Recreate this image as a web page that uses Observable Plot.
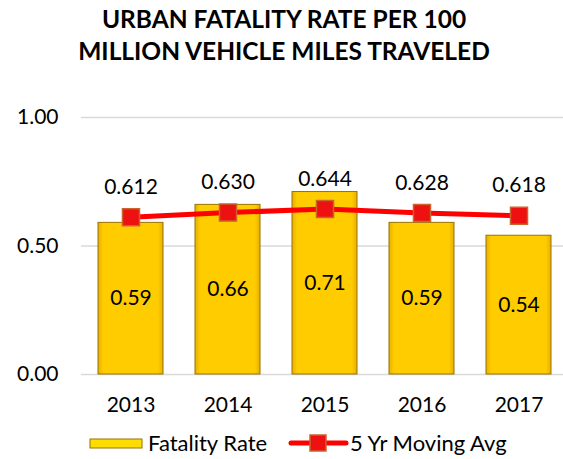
<!DOCTYPE html>
<html>
<head>
<meta charset="utf-8">
<script src="https://cdn.jsdelivr.net/npm/d3@7"></script>
<script src="https://cdn.jsdelivr.net/npm/@observablehq/plot@0.6"></script>
<style>
  html, body { margin: 0; padding: 0; background: #fff; }
  #wrap { width: 563px; height: 459px; position: relative; font-family: Lato, "Open Sans", sans-serif; color: #000; }
  #title { height: 75px; box-sizing: border-box; padding-top: 3px; text-align: center; font-weight: bold; font-size: 24.5px; line-height: 32px; padding-left: 5px; }
  #chart svg { display: block; }
  #legend { position: relative; height: 39px; }
</style>
</head>
<body>
<div id="wrap">
  <div id="title">URBAN FATALITY RATE PER 100<br>MILLION VEHICLE MILES TRAVELED</div>
  <div id="chart"></div>
  <div id="legend"></div>
</div>
<script>
const years = ["2013", "2014", "2015", "2016", "2017"];
const fatalityRate = [0.59, 0.66, 0.71, 0.59, 0.54];
const movingAvg = [0.612, 0.630, 0.644, 0.628, 0.618];
const yTicks = [0, 0.5, 1.0];
const seriesNames = ["Fatality Rate", "5 Yr Moving Avg"];

const data = years.map((y, i) => ({year: y, rate: fatalityRate[i], avg: movingAvg[i]}));

const plot = Plot.plot({
  width: 563,
  height: 345,
  marginLeft: 81,
  marginRight: -5,
  marginTop: 42,
  marginBottom: 46,
  style: {fontFamily: "Lato, 'Open Sans', sans-serif", fontSize: "21px", color: "#000", background: "#fff"},
  x: {domain: years, paddingInner: 0.33, paddingOuter: 0.165, label: null},
  y: {domain: [0, 1], label: null},
  marks: [
    Plot.ruleY(yTicks, {stroke: "#d9d9d9", strokeWidth: 1.3}),
    Plot.barY(data, {x: "year", y: "rate", fill: "url(#barGrad)", stroke: "#9a7300", strokeWidth: 1}),
    Plot.text(data, {x: "year", y: d => d.rate / 2, text: d => d.rate.toFixed(2), fill: "#000", fontSize: 21}),
    Plot.line(data, {x: "year", y: "avg", stroke: "#ff0000", strokeWidth: 5}),
    Plot.dot(data, {x: "year", y: "avg", symbol: "square", r: 9.6, fill: "#ee1111", stroke: "#c8642c", strokeWidth: 1.5}),
    Plot.text(data, {x: "year", y: "avg", text: d => d.avg.toFixed(3), dy: -30, fill: "#000", fontSize: 21}),
    Plot.axisY({ticks: yTicks, tickFormat: d3.format(".2f"), tickSize: 0, tickPadding: 23, fontSize: 21}),
    Plot.axisX({tickSize: 0, tickPadding: 23, fontSize: 21})
  ]
});

// gradient definition for bars
const svgNS = "http://www.w3.org/2000/svg";
const defs = document.createElementNS(svgNS, "defs");
defs.innerHTML = `<linearGradient id="barGrad" x1="0" x2="1" y1="0" y2="0">
  <stop offset="0" stop-color="#e6b000"/>
  <stop offset="0.08" stop-color="#ffcc00"/>
  <stop offset="0.92" stop-color="#ffcc00"/>
  <stop offset="1" stop-color="#e6b000"/>
</linearGradient>`;
plot.insertBefore(defs, plot.firstChild);
document.getElementById("chart").appendChild(plot);

// legend
const lg = d3.select("#legend");
const ls = lg.append("svg").attr("width", 563).attr("height", 39).style("position", "absolute").style("left", 0).style("top", 0);
ls.append("rect").attr("x", 90).attr("y", 19).attr("width", 52).attr("height", 9)
  .attr("fill", "#ffdd00").attr("stroke", "#9a7300").attr("stroke-width", 1);
ls.append("text").attr("x", 148).attr("y", 23).attr("dy", "0.36em").attr("font-size", 22).attr("font-family", "Lato, 'Open Sans', sans-serif").text(seriesNames[0]);
ls.append("line").attr("x1", 291).attr("x2", 346).attr("y1", 23).attr("y2", 23).attr("stroke", "#ff0000").attr("stroke-width", 5).attr("stroke-linecap", "round");
ls.append("rect").attr("x", 310).attr("y", 15).attr("width", 16).attr("height", 16).attr("fill", "#ee1111").attr("stroke", "#c8642c").attr("stroke-width", 1.5);
ls.append("text").attr("x", 350).attr("y", 23).attr("dy", "0.36em").attr("font-size", 22).attr("font-family", "Lato, 'Open Sans', sans-serif").text(seriesNames[1]);
</script>
</body>
</html>
